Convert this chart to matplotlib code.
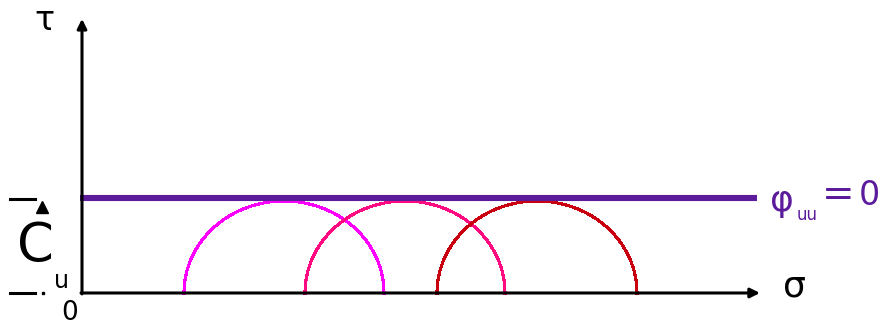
import numpy as np
import matplotlib.pyplot as plt

# Datos
centros_sigma = [2.02, 3.23, 4.55]   # centros de los circulos de Mohr
radio = 1.0                           # radio (Cu)
tau_cu = 1.03                         # envolvente phi_uu = 0
colores = ['#FF00FF', '#FF0A80', '#C8000F']
morado = '#5B1B9B'
estrecha = ['Liberation Sans Narrow', 'DejaVu Sans']

fig = plt.figure(figsize=(8.81, 3.25), dpi=100)
ax = fig.add_axes([0, 0, 1, 1])
ax.set_xlim(-0.82, 7.99)
ax.set_ylim(-0.348, 3.185)
ax.axis('off')

# Circulos de Mohr (semicirculos superiores)
t = np.linspace(0, np.pi, 200)
for c, col in zip(centros_sigma, colores):
    ax.plot(c + radio * np.cos(t), radio * np.sin(t), color=col, lw=1.5,
            antialiased=False)

# Envolvente horizontal
ax.plot([-0.02, 6.75], [tau_cu, tau_cu], color=morado, lw=4.4, solid_capstyle='butt')

# Ejes
ax.annotate('', xy=(0, 2.98), xytext=(0, -0.01),
            arrowprops=dict(arrowstyle='-|>', lw=2.2, color='black',
                            mutation_scale=14, shrinkA=0, shrinkB=0))
ax.annotate('', xy=(6.78, 0), xytext=(-0.01, 0),
            arrowprops=dict(arrowstyle='-|>', lw=2.2, color='black',
                            mutation_scale=14, shrinkA=0, shrinkB=0))

# Marcas de cota a la izquierda
ax.plot([-0.72, -0.47], [1.02, 1.02], color='black', lw=2.2, clip_on=False)
ax.plot([-0.40], [0.93], marker='^', color='black', ms=8, clip_on=False)
ax.plot([-0.72, -0.47], [0, 0], color='black', lw=2.2)
ax.plot([-0.39], [0], marker='s', color='black', ms=2)

# Textos
ax.text(-0.38, 2.96, 'τ', fontsize=24, ha='center', va='center')
ax.text(-0.47, 0.51, 'C', fontsize=38, ha='center', va='center', family=estrecha)
ax.text(-0.20, 0.13, 'u', fontsize=17, ha='center', va='center')
ax.text(-0.12, -0.22, '0', fontsize=19, ha='center', va='center', family=estrecha)
ax.text(7.12, 0.07, 'σ', fontsize=26, ha='center', va='center')
ax.text(7.0, 1.0, 'φ', fontsize=26, color=morado, ha='center', va='center')
ax.text(7.25, 0.85, 'uu', fontsize=12, color=morado, ha='center', va='center')
ax.text(7.56, 1.06, '=', fontsize=28, color=morado, ha='center', va='center')
ax.text(7.87, 1.06, '0', fontsize=24, color=morado, ha='center', va='center',
        family=estrecha)

plt.savefig('out.png', dpi=100)
